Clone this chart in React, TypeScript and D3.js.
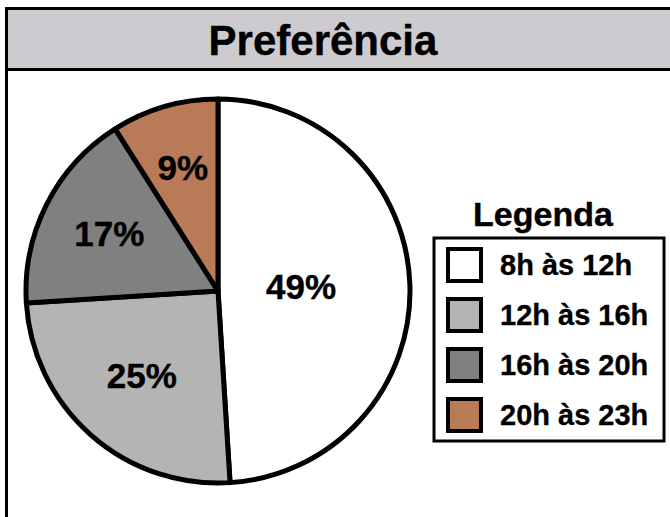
import React, { useEffect, useRef } from "react";
import * as d3 from "d3";

// slices, clockwise from 12 o'clock
const categories = ["8h às 12h", "12h às 16h", "16h às 20h", "20h às 23h"];
const percentages = [49, 25, 17, 9];
const sliceColors = ["#ffffff", "#b4b4b4", "#808080", "#b97a57"];
const title = "Preferência";
const legendTitle = "Legenda";

function App() {
  const svgRef = useRef<SVGSVGElement>(null);

  useEffect(() => {
    const width = 670;
    const height = 517;
    const font = "'Liberation Sans', Arial, sans-serif";

    const svg = d3.select(svgRef.current);
    svg.selectAll("*").remove();
    svg.attr("width", width).attr("height", height);

    // frame + title bar (the box runs past the right and bottom edges)
    svg
      .append("rect")
      .attr("x", 6.5)
      .attr("y", 8.5)
      .attr("width", 720)
      .attr("height", 600)
      .attr("fill", "#ffffff")
      .attr("stroke", "#000")
      .attr("stroke-width", 3);

    svg
      .append("rect")
      .attr("x", 6.5)
      .attr("y", 8.5)
      .attr("width", 720)
      .attr("height", 61)
      .attr("fill", "#cdcbd0")
      .attr("stroke", "#000")
      .attr("stroke-width", 3);

    svg
      .append("text")
      .attr("x", 323)
      .attr("y", 55)
      .attr("text-anchor", "middle")
      .attr("font-family", font)
      .attr("font-weight", "bold")
      .attr("font-size", 42)
      .attr("stroke", "#000")
      .attr("stroke-width", 0.4)
      .text(title);

    // pie
    const cx = 218;
    const cy = 291;
    const radius = 192;

    const pie = d3
      .pie<number>()
      .sort(null)
      .value((d) => d);
    const arcs = pie(percentages);

    const arc = d3.arc<d3.PieArcDatum<number>>().innerRadius(0).outerRadius(radius);

    // label sits on the area centroid of each sector
    const labelPos = (d: d3.PieArcDatum<number>) => {
      const theta = d.endAngle - d.startAngle;
      const mid = (d.startAngle + d.endAngle) / 2;
      const dist = (4 * radius * Math.sin(theta / 2)) / (3 * theta);
      return [dist * Math.sin(mid), -dist * Math.cos(mid)];
    };

    const g = svg.append("g").attr("transform", `translate(${cx} ${cy})`);

    g.selectAll("path")
      .data(arcs)
      .join("path")
      .attr("d", arc)
      .attr("fill", (_, i) => sliceColors[i])
      .attr("stroke", "#000")
      .attr("stroke-width", 5)
      .attr("stroke-linejoin", "round");

    g.selectAll("text")
      .data(arcs)
      .join("text")
      .attr("transform", (d) => `translate(${labelPos(d)})`)
      .attr("text-anchor", "middle")
      .attr("dy", "0.3em")
      .attr("font-family", font)
      .attr("font-weight", "bold")
      .attr("font-size", 35)
      .attr("stroke", "#000")
      .attr("stroke-width", 0.4)
      .text((d) => `${d.data}%`);

    // legend
    const legendX = 434;
    const legendY = 238;
    const legendW = 230;
    const legendH = 203;
    const rowY = d3
      .scaleBand<string>()
      .domain(categories)
      .range([249, 431])
      .paddingInner(0.36)
      .paddingOuter(0);

    svg
      .append("text")
      .attr("x", 543)
      .attr("y", 226)
      .attr("text-anchor", "middle")
      .attr("font-family", font)
      .attr("font-weight", "bold")
      .attr("font-size", 34)
      .attr("stroke", "#000")
      .attr("stroke-width", 0.4)
      .text(legendTitle);

    svg
      .append("rect")
      .attr("x", legendX)
      .attr("y", legendY)
      .attr("width", legendW)
      .attr("height", legendH)
      .attr("fill", "#fff")
      .attr("stroke", "#000")
      .attr("stroke-width", 3);

    const rows = svg
      .append("g")
      .selectAll("g")
      .data(categories)
      .join("g")
      .attr("transform", (d) => `translate(${legendX + 14} ${rowY(d)})`);

    rows
      .append("rect")
      .attr("x", 0)
      .attr("y", 0)
      .attr("width", 33)
      .attr("height", rowY.bandwidth())
      .attr("fill", (_, i) => sliceColors[i])
      .attr("stroke", "#000")
      .attr("stroke-width", 4);

    rows
      .append("text")
      .attr("x", 52)
      .attr("y", rowY.bandwidth() / 2)
      .attr("dy", "0.36em")
      .attr("font-family", font)
      .attr("font-weight", "bold")
      .attr("font-size", 29)
      .attr("stroke", "#000")
      .attr("stroke-width", 0.3)
      .text((d) => d);
  }, []);

  return (
    <svg
      ref={svgRef}
      style={{ position: "absolute", left: 0, top: 0, display: "block" }}
    />
  );
}

export default App;
